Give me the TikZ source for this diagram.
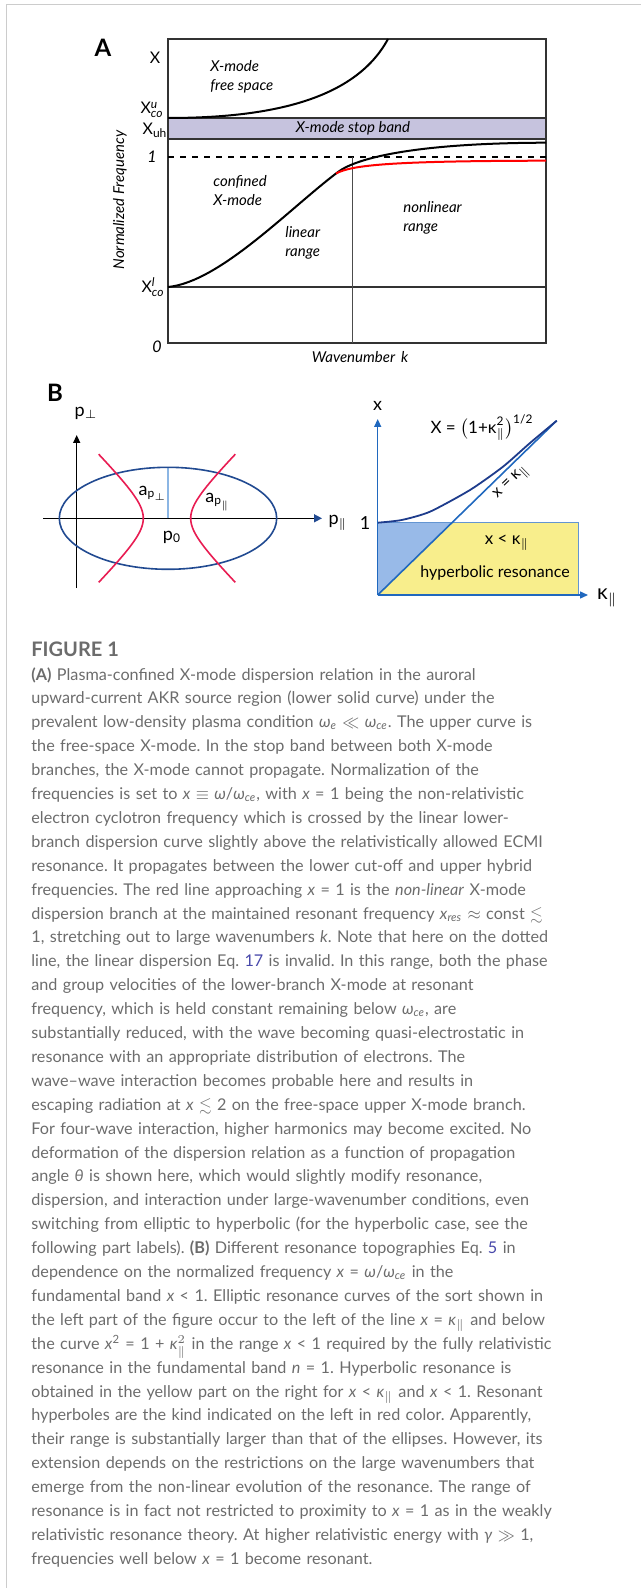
\documentclass[tikz,border=0pt]{standalone}
\usepackage{amsmath,amssymb}
\usepackage{fontspec}
\setmainfont{Lato}
\usetikzlibrary{arrows.meta,positioning}
\definecolor{capgray}{RGB}{108,108,108}
\definecolor{linkblue}{RGB}{72,72,170}
\definecolor{bandlav}{RGB}{198,195,222}
\definecolor{ellblue}{RGB}{33,74,145}
\definecolor{hypred}{RGB}{232,28,82}
\definecolor{semiblue}{RGB}{140,182,228}
\definecolor{axblue}{RGB}{32,104,190}
\definecolor{curvblue}{RGB}{30,60,140}
\definecolor{trifill}{RGB}{152,186,232}
\definecolor{resyellow}{RGB}{248,238,140}
\newcommand{\wce}{\textit{ω}\textsubscript{\textit{ce}}}
\newcommand{\kpar}{\textit{κ}$_{\parallel}$}
\newcommand{\eqlnk}[1]{\textcolor{linkblue}{#1}}

\begin{document}
\begin{tikzpicture}[
  x=0.5pt, y=-0.5pt,
  font=\fontsize{8}{9.5}\selectfont,
  lbl/.style={inner sep=0pt},
  blbl/.style={inner sep=0pt, font=\fontsize{9}{10}\selectfont},
  ilbl/.style={inner sep=0pt, align=left, font=\fontsize{7.5}{9.5}\selectfont\itshape},
  panel/.style={inner sep=0pt, font=\fontsize{12}{14}\selectfont\bfseries},
  frame/.style={draw=black!80, line width=0.6pt},
  curve/.style={line width=1pt},
  axis/.style={line width=0.7pt, -{Triangle[length=4pt, width=3.5pt]}},
  captext/.style={inner sep=0pt, text=capgray, text width=300pt, align=left,
              font=\fontsize{8.1}{11.95}\selectfont\frenchspacing}
]
\useasboundingbox (0,0) rectangle (641,1588);
\draw[black!20, line width=0.5pt] (641,4.5) -- (6,4.5) -- (6,1588);

% panel A
\fill[bandlav] (168,118) rectangle (546,139);
\draw[frame] (168,39) rectangle (546,343);
\draw[frame] (168,118) -- (546,118);
\draw[frame] (168,139) -- (546,139);
\draw[frame] (168,287) -- (546,287);
\draw[black, dashed, line width=0.6pt] (168,157) -- (546,157);
\draw[black!70, line width=0.5pt] (352.3,157) -- (352.3,343);

\draw[curve] (168,118) .. controls (270,118) and (355,100) .. (388,39);
\draw[curve] (168,287) .. controls (220,282) and (290,208) .. (338,172)
                       .. controls (358,157) and (420,143) .. (546,142.7);
\draw[curve, red] (336,173.5) .. controls (352,165) and (390,161) .. (546,160.7);

\node[panel] (lblA) at (103,48) {A};
\node[lbl] (xtop) at (155,58) {X};
\node[lbl] (xcou) at (152,110) {X$^{\textit{u}}_{\textit{co}}$};
\node[lbl] (xuh) at (155,130) {X$_{\text{uh}}$};
\node[lbl] (one) at (152,157) {\textit{1}};
\node[lbl] (xcol) at (153,287) {X$^{\textit{l}}_{\textit{co}}$};
\node[lbl] (zero) at (157,347) {\textit{0}};
\node[ilbl, rotate=90] (yax) at (120,200) {Normalized Frequency};

\node[ilbl, anchor=west] (free) at (210,77) {X-mode\\free space};
\node[ilbl] (stop) at (353,128) {X-mode stop band};
\node[ilbl, anchor=west] (conf) at (213,191) {confined\\X-mode};
\node[ilbl, anchor=west] (lin) at (285,243) {linear\\range};
\node[ilbl, anchor=west] (nonlin) at (403,218) {nonlinear\\range};
\node[ilbl] (wave) at (360,357) {Wavenumber \,k};

% panel B, left
\node[panel] (lblB) at (55,393) {B};
\draw[axis] (76.7,588) -- (76.7,435);
\draw[axis, -{Triangle[length=4pt, width=4pt, color=ellblue]}] (43,518.3) -- (322,518.3);
\node[blbl] (pperp) at (86,413) {p$_{\perp}$};
\node[blbl] (ppar) at (338,523) {p$_{\parallel}$};

\draw[semiblue, line width=0.6pt] (168,518.3) -- (168,467.3);
\draw[ellblue, line width=0.8pt] (168,518.3) ellipse [x radius=54.35pt, y radius=25.5pt];
\draw[hypred, line width=0.8pt] plot[domain=-1.72:1.72, samples=41, variable=\t]
     ({167-23.7*cosh(\t)}, {518.3+23.7*sinh(\t)});
\draw[hypred, line width=0.8pt] plot[domain=-1.72:1.72, samples=41, variable=\t]
     ({167+23.7*cosh(\t)}, {518.3+23.7*sinh(\t)});

\node[blbl] (aperp) at (153,493) {a$_{\text{p}_{\perp}}$};
\node[blbl] (apar) at (218,502) {a$_{\text{p}_{\parallel}}$};
\node[blbl] (pzero) at (172,537) {p$_{\text{0}}$};

% panel B, right
\coordinate (orig) at (377.7,595);
\fill[resyellow] (452,522.7) -- (578.3,522.7) -- (578.3,595) -- (orig) -- cycle;
\fill[trifill] (377.7,522.7) -- (452,522.7) -- (orig) -- cycle;
\draw[axblue!70, line width=0.5pt] (377.7,522.7) -- (578.3,522.7) -- (578.3,595);
\draw[axblue, line width=0.8pt] (orig) -- (556.7,420.7);
\draw[curvblue, line width=0.9pt] plot[smooth, tension=0.4] coordinates
     {(377.7,522.7) (401.7,520) (430,511.7) (470,490) (503,466.7) (530,443) (556.7,420.7)};
\draw[axis, axblue] (orig) -- (377.7,419);
\draw[axis, axblue] (orig) -- (588,595);

\node[blbl] (xlab) at (377.7,406) {x};
\node[blbl] (onetwo) at (365,523) {1};
\node[lbl, font=\fontsize{10.5}{11}\selectfont] (kpar) at (607,598) {κ$_{\parallel}$};
\node[lbl, font=\fontsize{8.5}{10}\selectfont] (formula) at (482,428)
     {X = $\bigl(\text{1+κ}^{\text{2}}_{\parallel}\bigr)^{\text{1/2}}$};
\node[lbl, rotate=44] (diag) at (512,483) {x = κ$_{\parallel}$};
\node[lbl, font=\fontsize{8.5}{10}\selectfont] (xless) at (507,543) {x < κ$_{\parallel}$};
\node[lbl, font=\fontsize{8}{10}\selectfont] (hyper) at (495,573) {hyperbolic resonance};

% caption
\node[inner sep=0pt, anchor=base west, text=capgray, font=\fontsize{10}{12}\selectfont\bfseries]
     (fig) at (31,656) {FIGURE 1};
\node[captext, anchor=base west] (capt) at (31,680) {%
\textbf{(A)} Plasma-confined X-mode dispersion relation in the auroral\\
upward-current AKR source region (lower solid curve) under the\\
prevalent low-density plasma condition \textit{ω}\textsubscript{\textit{e}} $\ll$ \wce. The upper curve is\\
the free-space X-mode. In the stop band between both X-mode\\
branches, the X-mode cannot propagate. Normalization of the\\
frequencies is set to \textit{x} $\equiv$ \textit{ω}/\wce, with \textit{x} = 1 being the non-relativistic\\
electron cyclotron frequency which is crossed by the linear lower-\\
branch dispersion curve slightly above the relativistically allowed ECMI\\
resonance. It propagates between the lower cut-off and upper hybrid\\
frequencies. The red line approaching \textit{x} = 1 is the \textit{non-linear} X-mode\\
dispersion branch at the maintained resonant frequency \textit{x}\textsubscript{\textit{res}} $\approx$ const $\lesssim$\\
1, stretching out to large wavenumbers \textit{k}. Note that here on the dotted\\
line, the linear dispersion Eq. \eqlnk{17} is invalid. In this range, both the phase\\
and group velocities of the lower-branch X-mode at resonant\\
frequency, which is held constant remaining below \wce, are\\
substantially reduced, with the wave becoming quasi-electrostatic in\\
resonance with an appropriate distribution of electrons. The\\
wave--wave interaction becomes probable here and results in\\
escaping radiation at \textit{x} $\lesssim$ 2 on the free-space upper X-mode branch.\\
For four-wave interaction, higher harmonics may become excited. No\\
deformation of the dispersion relation as a function of propagation\\
angle \textit{θ} is shown here, which would slightly modify resonance,\\
dispersion, and interaction under large-wavenumber conditions, even\\
switching from elliptic to hyperbolic (for the hyperbolic case, see the\\
following part labels). \textbf{(B)} Different resonance topographies Eq. \eqlnk{5} in\\
dependence on the normalized frequency \textit{x} = \textit{ω}/\wce{} in the\\
fundamental band \textit{x} < 1. Elliptic resonance curves of the sort shown in\\
the left part of the figure occur to the left of the line \textit{x} = \kpar{} and below\\
the curve \textit{x}\textsuperscript{2} = 1 + \textit{κ}$^{2}_{\parallel}$ in the range \textit{x} < 1 required by the fully relativistic\\
resonance in the fundamental band \textit{n} = 1. Hyperbolic resonance is\\
obtained in the yellow part on the right for \textit{x} < \kpar{} and \textit{x} < 1. Resonant\\
hyperboles are the kind indicated on the left in red color. Apparently,\\
their range is substantially larger than that of the ellipses. However, its\\
extension depends on the restrictions on the large wavenumbers that\\
emerge from the non-linear evolution of the resonance. The range of\\
resonance is in fact not restricted to proximity to \textit{x} = 1 as in the weakly\\
relativistic resonance theory. At higher relativistic energy with \textit{γ} $\gg$ 1,\\
frequencies well below \textit{x} = 1 become resonant.};
\end{tikzpicture}
\end{document}
